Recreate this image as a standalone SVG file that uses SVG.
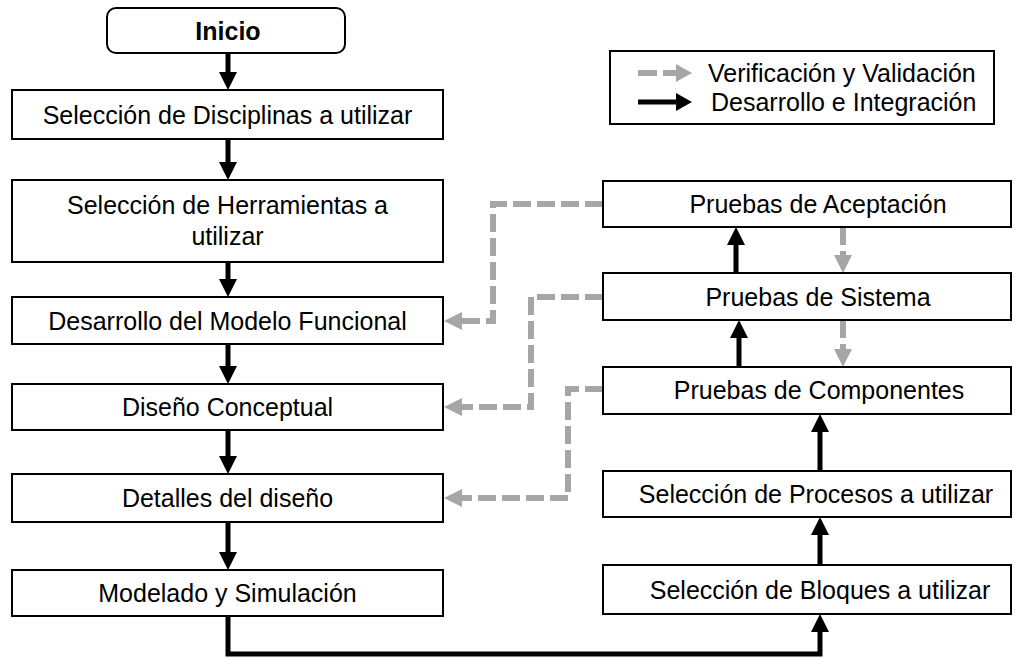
<svg xmlns="http://www.w3.org/2000/svg" width="1027" height="658" viewBox="0 0 1027 658">
<style>
  .box{fill:#fff;stroke:#000;stroke-width:2}
  .t{font-family:"Liberation Sans",Arial,sans-serif;font-size:25px;fill:#000;text-anchor:middle;dominant-baseline:central}
  .lg{font-family:"Liberation Sans",Arial,sans-serif;font-size:25px;fill:#000;dominant-baseline:central}
  .blk{fill:none;stroke:#000;stroke-width:5}
  .gry{fill:none;stroke:#A6A6A6;stroke-width:6;stroke-dasharray:18 6}
</style>
<defs>
  <marker id="ab" markerUnits="userSpaceOnUse" viewBox="0 0 18 18" markerWidth="18" markerHeight="18" refX="6" refY="9" orient="auto">
    <path d="M0,0 L18,9 L0,18 Z" fill="#000"/>
  </marker>
  <marker id="ag" markerUnits="userSpaceOnUse" viewBox="0 0 18 18" markerWidth="18" markerHeight="18" refX="6" refY="9" orient="auto">
    <path d="M0,0 L18,9 L0,18 Z" fill="#A6A6A6"/>
  </marker>
</defs>
<rect width="1027" height="658" fill="#fff"/>
<g id="connectors">
  <path class="blk" d="M228,53 V78" marker-end="url(#ab)"/>
  <path class="blk" d="M228,139 V168" marker-end="url(#ab)"/>
  <path class="blk" d="M228,262 V285" marker-end="url(#ab)"/>
  <path class="blk" d="M228,344 V372" marker-end="url(#ab)"/>
  <path class="blk" d="M228,430 V462" marker-end="url(#ab)"/>
  <path class="blk" d="M228,522 V558" marker-end="url(#ab)"/>
  <path class="blk" d="M228,616 V654 H820 V626" marker-end="url(#ab)"/>
  <path class="blk" d="M820,565 V529" marker-end="url(#ab)"/>
  <path class="blk" d="M820,471 V426" marker-end="url(#ab)"/>
  <path class="blk" d="M739,367 V332" marker-end="url(#ab)"/>
  <path class="blk" d="M736,273 V239" marker-end="url(#ab)"/>
  <path class="gry" d="M603,204 H493 V321 H456" marker-end="url(#ag)"/>
  <path class="gry" d="M603,297 H531 V407 H456" marker-end="url(#ag)"/>
  <path class="gry" d="M603,389 H568 V498 H456" marker-end="url(#ag)"/>
  <path class="gry" d="M843,227 V261" marker-end="url(#ag)"/>
  <path class="gry" d="M843,320 V355" marker-end="url(#ag)"/>
</g>
<g id="inicio">
  <rect class="box" x="107" y="8" width="238" height="45" rx="9"/>
  <text class="t" x="228" y="31" font-weight="bold" font-size="25">Inicio</text>
</g>
<g id="disciplinas">
  <rect class="box" x="12" y="90" width="431" height="49"/>
  <text class="t" x="227.5" y="115">Selección de Disciplinas a utilizar</text>
</g>
<g id="herramientas">
  <rect class="box" x="12" y="180" width="431" height="82"/>
  <text class="t" x="227.5" y="205">Selección de Herramientas a</text>
  <text class="t" x="227.5" y="236">utilizar</text>
</g>
<g id="modelo-funcional">
  <rect class="box" x="12" y="297" width="431" height="47"/>
  <text class="t" x="227.5" y="321">Desarrollo del Modelo Funcional</text>
</g>
<g id="diseno-conceptual">
  <rect class="box" x="12" y="384" width="431" height="46"/>
  <text class="t" x="227.5" y="407">Diseño Conceptual</text>
</g>
<g id="detalles">
  <rect class="box" x="12" y="474" width="431" height="48"/>
  <text class="t" x="227.5" y="498">Detalles del diseño</text>
</g>
<g id="modelado">
  <rect class="box" x="12" y="570" width="431" height="46"/>
  <text class="t" x="227.5" y="593">Modelado y Simulación</text>
</g>
<g id="aceptacion">
  <rect class="box" x="603" y="181" width="408" height="46"/>
  <text class="t" x="818" y="204">Pruebas de Aceptación</text>
</g>
<g id="sistema">
  <rect class="box" x="603" y="273" width="408" height="47"/>
  <text class="t" x="818" y="297">Pruebas de Sistema</text>
</g>
<g id="componentes">
  <rect class="box" x="603" y="367" width="408" height="47"/>
  <text class="t" x="819" y="390">Pruebas de Componentes</text>
</g>
<g id="procesos">
  <rect class="box" x="603" y="471" width="408" height="46"/>
  <text class="t" x="816" y="494">Selección de Procesos a utilizar</text>
</g>
<g id="bloques">
  <rect class="box" x="603" y="565" width="408" height="49"/>
  <text class="t" x="820" y="590">Selección de Bloques a utilizar</text>
</g>
<g id="legend">
  <rect class="box" x="610" y="51" width="384" height="73"/>
  <path d="M638,73 H657 M663,73 H678" fill="none" stroke="#A6A6A6" stroke-width="6"/>
  <path d="M676,64 L692,73 L676,82 Z" fill="#A6A6A6"/>
  <path d="M638,102 H680" fill="none" stroke="#000" stroke-width="5"/>
  <path d="M676,93 L692,102 L676,111 Z" fill="#000"/>
  <text class="lg" x="708" y="73">Verificación y Validación</text>
  <text class="lg" x="711" y="102">Desarrollo e Integración</text>
</g>
</svg>
